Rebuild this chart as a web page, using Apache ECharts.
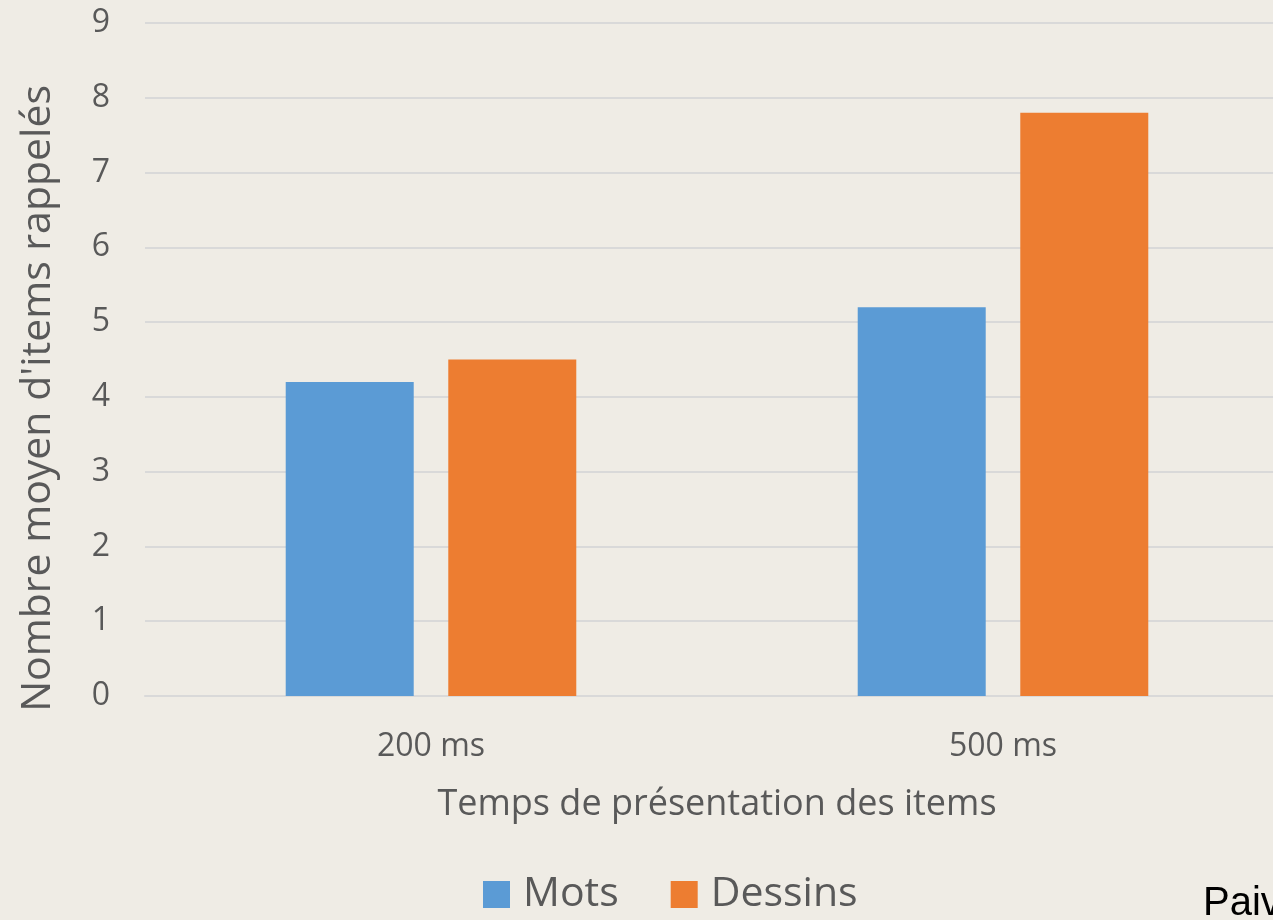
<!DOCTYPE html>
<html>
<head>
<meta charset="utf-8">
<script src="https://cdn.jsdelivr.net/npm/echarts@6/dist/echarts.min.js"></script>
<style>
  html, body { margin: 0; padding: 0; background: #efece5; }
  #chart { width: 1273px; height: 920px; }
</style>
</head>
<body>
<div id="chart"></div>
<script>
const categories = ['200 ms', '500 ms'];
const mots = [4.2, 5.2];
const dessins = [4.5, 7.8];
const yTicks = [0, 1, 2, 3, 4, 5, 6, 7, 8, 9];

const chart = echarts.init(document.getElementById('chart'));
const textColor = '#595959';
const gridColor = '#d9d9d9';
const font = '"Open Sans", "Noto Sans", sans-serif';

const option = {
  animation: false,
  backgroundColor: '#efece5',
  textStyle: { fontFamily: font },
  grid: {
    left: 145,
    top: 23,
    width: 1144,
    height: 673,
    outerBoundsMode: 'none'
  },
  legend: {
    data: ['Mots', 'Dessins'],
    left: 478,
    top: 869,
    icon: 'rect',
    itemWidth: 27,
    itemHeight: 27,
    itemGap: 52,
    textStyle: { color: textColor, fontSize: 41, fontFamily: font, padding: [0, 0, 0, 8] }
  },
  xAxis: {
    type: 'category',
    data: categories,
    name: 'Temps de présentation des items',
    nameLocation: 'middle',
    nameGap: 91,
    nameTextStyle: { color: textColor, fontSize: 36, fontFamily: font },
    axisLine: { lineStyle: { color: gridColor, width: 2 } },
    axisTick: { show: false },
    axisLabel: { color: textColor, fontSize: 32, margin: 35, fontFamily: font }
  },
  yAxis: {
    type: 'value',
    min: yTicks[0],
    max: yTicks[yTicks.length - 1],
    interval: 1,
    axisLine: { show: false },
    axisTick: { show: false },
    axisLabel: { color: textColor, fontSize: 32, margin: 35, fontFamily: font },
    splitLine: { lineStyle: { color: gridColor, width: 2 } }
  },
  graphic: [
    {
      type: 'text',
      left: 18,
      top: 85,
      rotation: Math.PI / 2,
      style: {
        text: "Nombre moyen d'items rappelés",
        fill: textColor,
        font: '41px ' + font
      }
    },
    {
      type: 'text',
      left: 1203,
      top: 884,
      style: {
        text: 'Paiva',
        fill: '#000',
        font: '40px "Liberation Sans", Arial, sans-serif'
      }
    }
  ],
  series: [
    {
      name: 'Mots',
      type: 'bar',
      data: mots,
      barWidth: 128,
      barGap: '27%',
      itemStyle: { color: '#5b9bd5' }
    },
    {
      name: 'Dessins',
      type: 'bar',
      data: dessins,
      barWidth: 128,
      barGap: '27%',
      itemStyle: { color: '#ed7d31' }
    }
  ]
};

chart.setOption(option);
</script>
</body>
</html>
